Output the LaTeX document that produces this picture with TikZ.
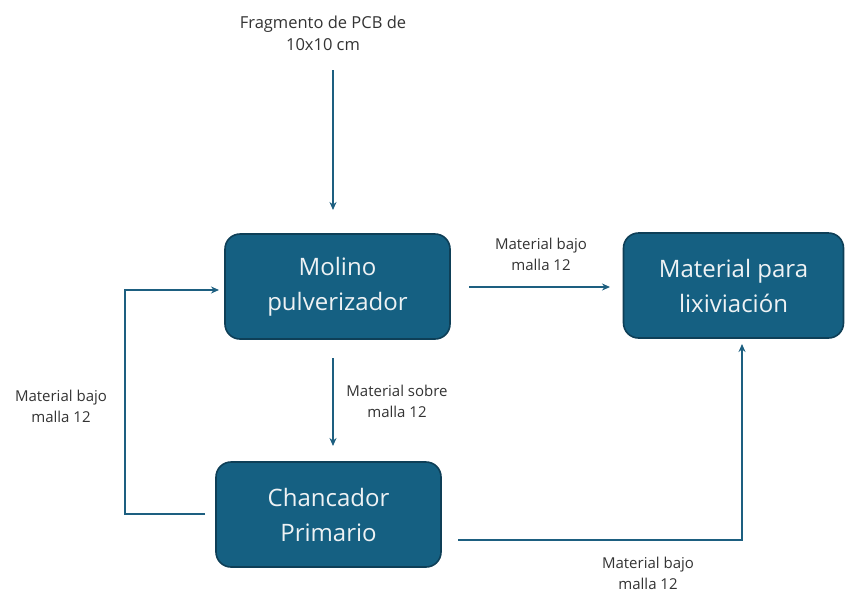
\documentclass[tikz,border=0pt]{standalone}
\usepackage{fontspec}
\setmainfont{Open Sans}
\usetikzlibrary{arrows.meta}
\definecolor{boxfill}{HTML}{156082}
\definecolor{boxline}{HTML}{0E3F57}
\definecolor{arrowc}{HTML}{1D5F80}
\definecolor{labelc}{HTML}{333333}
\definecolor{boxtext}{HTML}{EEF2F4}
\begin{document}
\begin{tikzpicture}[x=1pt,y=-1pt,
  procbox/.style={draw=boxline,line width=1.6pt,fill=boxfill,rounded corners=15pt,
    minimum width=225pt,minimum height=105pt,align=center,text=boxtext,
    font=\fontsize{24}{35}\selectfont,inner sep=0pt},
  lbl/.style={align=center,text=labelc,font=\fontsize{15}{21}\selectfont,inner sep=0pt},
  toplbl/.style={align=center,text=labelc,font=\fontsize{16.5}{22}\selectfont,inner sep=0pt},
  flow/.style={draw=arrowc,line width=1.8pt,-{Stealth[length=8pt,width=7pt]}}]
\useasboundingbox (0,0) rectangle (845,595);
\node[procbox] (molino) at (337.5,286.5) {Molino\\pulverizador};
\node[procbox,minimum width=220pt] (lix) at (733.5,285.5) {Material para\\lixiviación};
\node[procbox] (chanc) at (328.5,514.5) {Chancador\\Primario};
\node[toplbl] (frag) at (323,33) {Fragmento de PCB de\\10x10 cm};
\coordinate (topA) at (333,70);
\coordinate (topB) at (333,210);
\draw[flow] (topA) -- (topB);
% right arrow
\coordinate (rA) at (469,287);
\coordinate (rB) at (610,287);
\draw[flow] (rA) -- (rB);
\node[lbl] (l1) at (541,254.5) {Material bajo\\malla 12};
% down arrow
\coordinate (dA) at (333,358);
\coordinate (dB) at (333,446);
\draw[flow] (dA) -- (dB);
\node[lbl] (l2) at (397,401.5) {Material sobre\\malla 12};
% feedback loop
\coordinate (fA) at (205,514);
\coordinate (fB) at (125,514);
\coordinate (fC) at (125,290);
\coordinate (fD) at (219,290);
\draw[flow] (fA) -- (fB) -- (fC) -- (fD);
\node[lbl] (l3) at (61,406.5) {Material bajo\\malla 12};
% bottom route
\coordinate (bA) at (458,540);
\coordinate (bB) at (742,540);
\coordinate (bC) at (742,344);
\draw[flow] (bA) -- (bB) -- (bC);
\node[lbl] (l4) at (648,573.5) {Material bajo\\malla 12};
\end{tikzpicture}
\end{document}
